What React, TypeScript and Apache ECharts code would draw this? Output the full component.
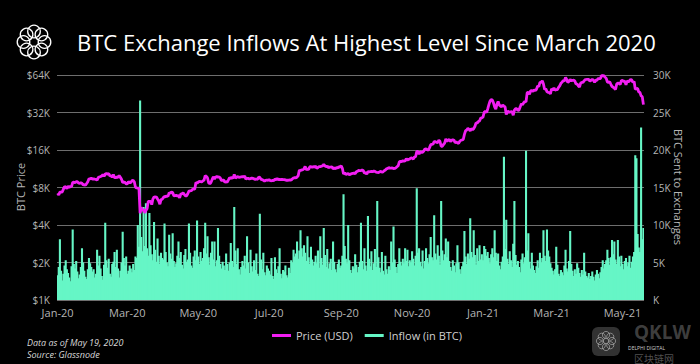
import React, { useEffect, useRef } from "react";
import * as echarts from "echarts";

// Daily series, 1 Jan 2020 .. 19 May 2021
const START_UTC = Date.UTC(2020, 0, 1);
const MONTHS = ["Jan", "Feb", "Mar", "Apr", "May", "Jun", "Jul", "Aug", "Sep", "Oct", "Nov", "Dec"];

// BTC price (USD), daily
const priceUSD = [
  // Jan 2020
  7200, 6985, 7345, 7356, 7358, 7760, 8160, 8045, 7820, 8195, 8020, 8180, 8110, 8810, 8820, 8720, 8900, 8900, 8700, 8630, 8740, 8660, 8390, 8430, 8330, 8600, 8900, 9390, 9390, 9500, 9350,
  // Feb
  9380, 9330, 9290, 9180, 9610, 9730, 9800, 9900, 10160, 9850, 10270, 10350, 10240, 10360, 9900, 9930, 9700, 10160, 9600, 9600, 9690, 9660, 9960, 9660, 9310, 8790, 8820, 8780, 8560,
  // Mar
  8540, 8910, 8760, 8750, 9080, 9130, 8890, 8030, 7940, 7910, 7910, 4970, 5560, 5200, 5390, 5010, 5230, 5400, 6180, 6200, 6190, 5830, 6460, 6740, 6680, 6730, 6470, 6240, 5880, 6390, 6440,
  // Apr
  6640, 6790, 6730, 6870, 6780, 7270, 7180, 7360, 7300, 6860, 6880, 6910, 6860, 6870, 6620, 7120, 7100, 7260, 7050, 6860, 6870, 7130, 7480, 7510, 7540, 7700, 7770, 7760, 8790, 8660,
  // May
  8830, 8970, 8910, 8890, 9030, 9160, 9990, 9810, 9540, 8720, 8570, 8810, 9290, 9760, 9390, 9670, 9790, 9680, 9730, 9520, 9080, 9180, 9180, 8790, 8900, 8840, 9200, 9580, 9430, 9700, 9450,
  // Jun
  10200, 9520, 9670, 9790, 9630, 9670, 9750, 9790, 9730, 9880, 9320, 9480, 9470, 9390, 9430, 9520, 9460, 9390, 9300, 9360, 9300, 9690, 9630, 9300, 9250, 9160, 9010, 9120, 9190, 9140,
  // Jul
  9230, 9090, 9060, 9130, 9070, 9340, 9260, 9440, 9250, 9290, 9240, 9300, 9240, 9260, 9200, 9130, 9150, 9170, 9210, 9160, 9390, 9540, 9610, 9550, 9710, 9930, 11030, 10910, 11100, 11110, 11320,
  // Aug
  11800, 11070, 11230, 11190, 11740, 11760, 11600, 11750, 11680, 11880, 11410, 11580, 11780, 11770, 11860, 11910, 12280, 11950, 11750, 11870, 11520, 11680, 11650, 11750, 11320, 11460, 11330, 11540, 11480, 11710, 11680,
  // Sep
  11970, 11410, 10250, 10510, 10170, 10280, 10380, 10130, 10240, 10360, 10400, 10440, 10330, 10680, 10790, 10950, 10940, 10940, 11090, 10920, 10420, 10540, 10240, 10740, 10690, 10730, 10770, 10710, 10840, 10780,
  // Oct
  10620, 10580, 10550, 10670, 10790, 10600, 10670, 10920, 11050, 11300, 11380, 11550, 11430, 11430, 11500, 11320, 11370, 11500, 11750, 11920, 12820, 12990, 12930, 13130, 13030, 13070, 13650, 13270, 13460, 13560, 13800,
  // Nov
  13760, 13550, 14030, 14130, 15580, 15580, 14830, 15480, 15330, 15310, 15700, 16280, 16320, 16070, 15960, 16720, 17650, 17780, 17820, 18680, 18710, 18420, 18370, 19170, 18720, 17150, 17150, 17720, 18180, 19630,
  // Dec
  18800, 19200, 19450, 18700, 19150, 19360, 19170, 18320, 18550, 18260, 18060, 18800, 19160, 19270, 19440, 21380, 22850, 23130, 23870, 23480, 22750, 23820, 23240, 23730, 24710, 26440, 26280, 27080, 27360, 28840, 29000,
  // Jan 2021
  29370, 32130, 32780, 31970, 33990, 36820, 39370, 40670, 40240, 38240, 35540, 34010, 37390, 39160, 36830, 36070, 35550, 36640, 36010, 35470, 30830, 33010, 32080, 32300, 32370, 32570, 30430, 33470, 34320, 34320, 33110,
  // Feb
  33540, 35520, 37680, 36950, 38290, 39190, 38900, 46200, 46480, 44840, 47990, 47940, 47430, 48620, 47960, 49170, 52150, 51680, 55890, 55920, 57490, 54210, 48890, 49680, 47080, 46340, 46190, 45140,
  // Mar
  49630, 48380, 50540, 48370, 48760, 48880, 50970, 52390, 54880, 55960, 57800, 57330, 61240, 59000, 55650, 56910, 58920, 57650, 58030, 58100, 57350, 54100, 54340, 52300, 51300, 55040, 55870, 55820, 57630, 58770, 58920,
  // Apr
  59100, 58970, 57060, 58200, 59140, 57990, 56000, 58090, 58090, 59770, 59860, 59960, 63500, 62970, 63110, 61570, 60130, 56250, 55720, 56470, 53910, 51760, 51090, 50050, 49000, 54020, 55030, 54820, 53560, 57750,
  // May
  57830, 56630, 57210, 53240, 57480, 56430, 57400, 58930, 58280, 55860, 56700, 49150, 49720, 49880, 46760, 46430, 43540, 42910, 37000,
];

// BTC sent to exchanges, thousands of BTC, daily
const inflowK = [
  // Jan 2020
  3.3, 4.4, 8.1, 3.9, 2.6, 3.5, 4.6, 5.3, 4.1, 3.6, 3.0, 2.5, 4.5, 9.4, 4.8, 4.2, 5.2, 3.8, 2.9, 3.4, 4.4, 6.9, 5.0, 3.9, 3.1, 2.8, 4.1, 5.6, 4.9, 4.4, 3.8,
  // Feb
  4.1, 3.0, 3.5, 6.7, 4.6, 5.9, 4.2, 3.2, 2.7, 4.7, 10.3, 5.3, 4.3, 5.5, 3.5, 3.1, 4.8, 5.1, 6.4, 4.4, 6.7, 4.2, 3.0, 3.9, 5.0, 9.1, 5.6, 4.6, 5.8,
  // Mar
  3.5, 3.9, 4.6, 4.2, 3.7, 4.8, 4.0, 5.8, 5.6, 10.0, 7.1, 26.6, 8.4, 6.5, 12.4, 7.2, 12.9, 6.9, 5.9, 11.6, 7.3, 6.1, 5.3, 10.4, 6.7, 5.1, 8.2, 5.9, 4.8, 6.3, 5.6,
  // Apr
  5.4, 10.2, 6.4, 5.0, 4.5, 8.7, 6.2, 5.5, 8.9, 5.2, 4.4, 4.9, 5.9, 7.8, 5.6, 6.4, 4.7, 4.2, 6.0, 6.8, 5.1, 5.4, 10.2, 6.3, 4.6, 4.3, 5.8, 6.6, 5.3, 10.6,
  // May
  5.8, 4.8, 6.4, 5.2, 5.6, 6.9, 10.3, 6.2, 8.5, 5.7, 4.7, 6.3, 7.8, 5.4, 7.8, 4.5, 5.3, 9.6, 5.9, 4.8, 4.2, 5.1, 4.6, 4.0, 6.2, 4.8, 3.9, 5.0, 7.6, 5.2, 4.4,
  // Jun
  12.4, 6.6, 4.8, 6.9, 4.1, 3.4, 4.4, 5.2, 4.6, 5.9, 4.2, 8.5, 5.0, 3.6, 6.7, 4.5, 3.8, 5.3, 4.0, 6.2, 3.5, 3.2, 11.5, 5.4, 4.1, 6.3, 3.7, 3.3, 4.6, 4.2,
  // Jul
  3.9, 3.4, 5.6, 3.2, 2.8, 5.7, 4.1, 3.6, 4.5, 6.9, 3.5, 2.9, 4.0, 3.8, 4.6, 3.3, 3.0, 4.3, 3.6, 5.3, 5.0, 6.7, 5.8, 6.2, 7.8, 5.5, 6.6, 9.3, 6.9, 5.8, 7.3,
  // Aug
  6.3, 5.2, 8.5, 5.7, 4.8, 7.1, 5.4, 4.6, 5.1, 5.9, 4.9, 6.6, 4.3, 8.5, 5.6, 4.7, 9.6, 6.0, 4.4, 6.8, 4.2, 4.9, 5.5, 4.0, 7.8, 5.1, 4.1, 3.7, 4.8, 5.4, 4.3,
  // Sep
  4.6, 5.9, 14.1, 7.2, 5.5, 4.9, 10.0, 5.3, 4.0, 3.6, 4.5, 4.2, 6.1, 4.7, 3.7, 4.4, 5.1, 10.3, 5.2, 4.1, 6.9, 4.6, 3.9, 11.2, 5.5, 4.5, 6.5, 4.0, 4.9, 6.8,
  // Oct
  4.4, 13.2, 5.7, 4.3, 3.7, 6.4, 3.9, 3.4, 5.9, 4.1, 3.5, 4.5, 4.0, 7.8, 5.0, 9.8, 5.4, 4.4, 3.6, 4.8, 6.9, 5.1, 4.6, 5.5, 4.9, 6.9, 5.2, 6.7, 4.5, 5.3, 5.0,
  // Nov
  6.5, 5.5, 4.6, 5.9, 14.9, 6.3, 6.9, 5.1, 4.5, 6.6, 4.2, 5.2, 6.9, 5.6, 4.9, 6.1, 8.4, 5.7, 5.3, 11.3, 6.2, 5.4, 7.3, 5.9, 4.7, 13.2, 6.6, 5.3, 6.1, 8.2,
  // Dec
  5.7, 7.8, 5.2, 4.4, 3.9, 5.3, 4.6, 3.7, 4.9, 7.3, 5.0, 4.1, 3.5, 4.5, 5.1, 9.2, 5.8, 4.8, 6.2, 5.5, 10.9, 6.4, 5.7, 9.3, 6.0, 4.7, 6.9, 5.2, 7.3, 5.4, 6.1,
  // Jan 2021
  5.3, 7.2, 6.8, 5.9, 6.4, 5.6, 4.9, 6.1, 6.9, 5.7, 9.3, 6.3, 5.2, 6.2, 4.6, 4.1, 5.1, 5.8, 19.1, 6.8, 10.7, 5.5, 4.8, 6.5, 5.3, 4.4, 7.5, 13.2, 6.0, 4.7, 5.2,
  // Feb
  4.4, 3.7, 5.4, 6.2, 4.9, 5.7, 19.9, 6.6, 8.9, 5.1, 4.2, 6.3, 4.6, 4.0, 3.6, 4.5, 5.3, 4.3, 6.3, 5.0, 5.6, 9.3, 5.9, 5.2, 9.4, 6.6, 5.8, 4.9,
  // Mar
  4.3, 3.9, 3.4, 4.1, 7.1, 4.7, 3.5, 3.2, 4.0, 3.7, 3.3, 4.6, 6.7, 4.2, 3.8, 5.2, 9.2, 4.8, 3.9, 3.2, 4.1, 3.5, 4.9, 4.3, 3.6, 3.1, 4.0, 3.4, 6.3, 3.8, 3.2,
  // Apr
  3.0, 3.6, 2.8, 3.2, 3.8, 3.1, 2.6, 3.4, 4.0, 3.5, 2.9, 3.7, 4.4, 5.3, 4.2, 4.8, 5.3, 6.7, 5.6, 4.7, 5.7, 8.0, 6.1, 7.8, 5.4, 4.8, 8.0, 5.8, 4.5, 5.9,
  // May
  4.8, 4.1, 5.2, 5.6, 4.5, 5.0, 5.9, 4.3, 5.1, 5.8, 6.4, 19.3, 18.9, 8.8, 7.0, 6.4, 23.0, 8.1, 9.6,
];

// Axis ticks
const priceTicksLog2 = [0, 1, 2, 3, 4, 5, 6]; // $1K .. $64K, doubling
const inflowTicksK = [0, 5, 10, 15, 20, 25, 30];

const TITLE = "BTC Exchange Inflows At Highest Level Since March 2020";
const FONT = "'Open Sans', 'DejaVu Sans', sans-serif";

function isoDay(i: number): string {
  return new Date(START_UTC + i * 86400000).toISOString().slice(0, 10);
}

export default function App() {
  const ref = useRef<HTMLDivElement>(null);

  useEffect(() => {
    if (!ref.current) return;
    const chart = echarts.init(ref.current, null, { renderer: "svg" });
    const dates = inflowK.map((_, i) => isoDay(i));
    const showLabel = (_i: number, v: string) =>
      v.endsWith("-01") && parseInt(v.slice(5, 7), 10) % 2 === 1;

    const logoCircles: any[] = [];
    for (let k = 0; k < 8; k++) {
      const a = (k * Math.PI) / 4;
      logoCircles.push({
        type: "circle",
        shape: { cx: 34 + 10.5 * Math.cos(a), cy: 42 + 10.5 * Math.sin(a), r: 6.3 },
        style: { fill: "none", stroke: "#ffffff", lineWidth: 1.3 },
      });
    }
    const wmCircles: any[] = [];
    for (let k = 0; k < 8; k++) {
      const a = (k * Math.PI) / 4;
      wmCircles.push({
        type: "circle",
        shape: { cx: 606 + 6 * Math.cos(a), cy: 341 + 6 * Math.sin(a), r: 3.6 },
        style: { fill: "none", stroke: "rgba(200,200,200,0.55)", lineWidth: 1 },
      });
    }

    const option: any = {
      animation: false,
      backgroundColor: "#000000",
      textStyle: { fontFamily: FONT },
      grid: { left: 57, right: 56, top: 75, bottom: 64, containLabel: false },
      legend: {
        data: ["Price (USD)", "Inflow (in BTC)"],
        left: 267,
        top: 325,
        icon: "rect",
        itemWidth: 19,
        itemHeight: 3,
        itemGap: 12,
        selectedMode: false,
        textStyle: { color: "#d0d0d0", fontSize: 11, fontFamily: FONT },
      },
      xAxis: {
        type: "category",
        data: dates,
        boundaryGap: true,
        axisLine: { show: false },
        axisTick: { show: false },
        splitLine: { show: false },
        axisLabel: {
          interval: showLabel,
          formatter: (v: string) => `${MONTHS[parseInt(v.slice(5, 7), 10) - 1]}-${v.slice(2, 4)}`,
          color: "#b5b5b5",
          fontSize: 11,
          margin: 7,
          fontFamily: FONT,
        },
      },
      yAxis: [
        {
          type: "value",
          position: "left",
          min: priceTicksLog2[0],
          max: priceTicksLog2[priceTicksLog2.length - 1],
          interval: 1,
          axisLine: { show: false },
          axisTick: { show: false },
          splitLine: { lineStyle: { color: "#6e6e6e", width: 1 } },
          axisLabel: {
            formatter: (v: number) => `$${Math.pow(2, v)}K`,
            color: "#b5b5b5",
            fontSize: 10,
            margin: 7,
            fontFamily: FONT,
          },
        },
        {
          type: "value",
          position: "right",
          min: inflowTicksK[0],
          max: inflowTicksK[inflowTicksK.length - 1],
          interval: 5,
          axisLine: { show: false },
          axisTick: { show: false },
          splitLine: { show: false },
          axisLabel: {
            formatter: (v: number) => `${v === 0 ? "" : v}K`,
            color: "#b5b5b5",
            fontSize: 10,
            margin: 9,
            fontFamily: FONT,
          },
        },
      ],
      series: [
        {
          name: "Price (USD)",
          type: "line",
          yAxisIndex: 0,
          data: priceUSD.map((p) => Math.log2(p / 1000)),
          showSymbol: false,
          symbol: "none",
          lineStyle: { color: "#f21ef2", width: 2.8 },
          itemStyle: { color: "#f21ef2" },
          z: 3,
        },
        {
          name: "Inflow (in BTC)",
          type: "bar",
          yAxisIndex: 1,
          data: inflowK,
          barWidth: 2.1,
          itemStyle: { color: "#66f6c6" },
          z: 2,
        },
      ],
      graphic: [
        { type: "group", children: logoCircles },
        {
          type: "text",
          x: 77,
          y: 42,
          style: {
            text: TITLE,
            fill: "#ffffff",
            fontSize: 22,
            fontFamily: FONT,
            verticalAlign: "middle",
          },
        },
        {
          type: "text",
          x: 20,
          y: 187,
          rotation: Math.PI / 2,
          style: {
            text: "BTC Price",
            fill: "#b5b5b5",
            fontSize: 11,
            fontFamily: FONT,
            align: "center",
            verticalAlign: "middle",
          },
        },
        {
          type: "text",
          x: 678,
          y: 187,
          rotation: -Math.PI / 2,
          style: {
            text: "BTC Sent to Exchanges",
            fill: "#b5b5b5",
            fontSize: 11,
            fontFamily: FONT,
            align: "center",
            verticalAlign: "middle",
          },
        },
        {
          type: "text",
          x: 27,
          y: 342,
          style: {
            text: "Data as of May 19, 2020",
            fill: "#d8d8d8",
            fontSize: 9,
            fontStyle: "italic",
            fontFamily: FONT,
            verticalAlign: "middle",
          },
        },
        {
          type: "text",
          x: 27,
          y: 354.5,
          style: {
            text: "Source: Glassnode",
            fill: "#d8d8d8",
            fontSize: 9,
            fontStyle: "italic",
            fontFamily: FONT,
            verticalAlign: "middle",
          },
        },
        {
          type: "rect",
          shape: { x: 592, y: 327, width: 28, height: 29, r: 6 },
          style: { fill: "rgba(110,110,110,0.45)" },
        },
        { type: "group", children: wmCircles },
        {
          type: "text",
          x: 634,
          y: 332,
          style: {
            text: "QKLW",
            fill: "rgba(140,140,140,0.45)",
            fontSize: 19,
            fontWeight: "bold",
            fontFamily: FONT,
            verticalAlign: "middle",
          },
        },
        {
          type: "text",
          x: 628,
          y: 348,
          style: {
            text: "DELPHI DIGITAL",
            fill: "#cfcfcf",
            fontSize: 5,
            fontFamily: FONT,
            verticalAlign: "middle",
          },
        },
        {
          type: "text",
          x: 634,
          y: 358,
          style: {
            text: "区块链网",
            fill: "rgba(150,150,150,0.55)",
            fontSize: 10,
            fontFamily: "'Noto Sans CJK SC', sans-serif",
            verticalAlign: "middle",
          },
        },
      ],
    };

    chart.setOption(option);
    return () => chart.dispose();
  }, []);

  return (
    <div
      ref={ref}
      style={{ position: "absolute", left: 0, top: 0, width: 700, height: 364, background: "#000" }}
    />
  );
}
